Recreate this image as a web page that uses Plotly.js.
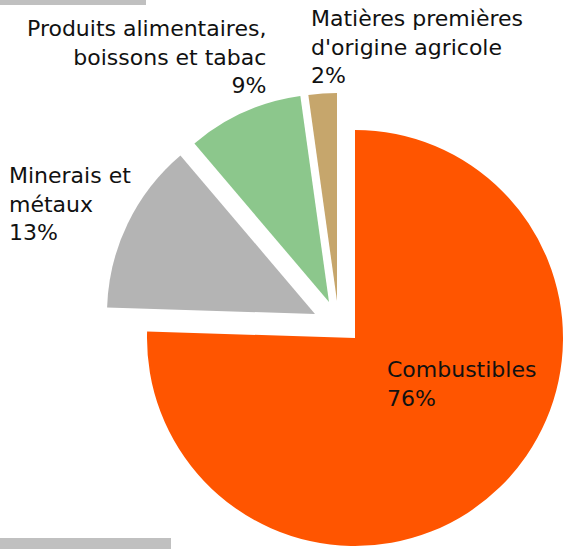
<!DOCTYPE html>
<html>
<head>
<meta charset="utf-8">
<script src="https://cdn.plot.ly/plotly-3.0.1.min.js"></script>
<style>
  html, body { margin: 0; padding: 0; background: #ffffff; }
  #chart { width: 564px; height: 549px; }
</style>
</head>
<body>
<div id="chart"></div>
<script>
// ---- data ----
const categories = ["Combustibles", "Minerais et métaux", "Produits alimentaires, boissons et tabac", "Matières premières d'origine agricole"];
const labelLines = ["Combustibles", "Minerais et<br>métaux", "Produits alimentaires,<br>boissons et tabac", "Matières premières<br>d'origine agricole"];
const shares = [75.5, 13.3, 9.0, 2.2];
const sliceColors = ["#FF5500", "#B4B4B4", "#8CC78C", "#C6A66C"];

// ---- layout helpers (pixel geometry of the exploded slices) ----
const W = 564, H = 549, R = 208;
const sliceCenters = [[355, 338], [315, 314], [329, 302], [337, 301]];

const total = shares.reduce((a, b) => a + b, 0);
const pctText = shares.map(v => Math.round(v * 100 / total) + "%");

const traces = categories.map((cat, i) => {
  const [cx, cy] = sliceCenters[i];
  return {
    type: "pie",
    labels: categories,
    values: shares,
    sort: false,
    direction: "clockwise",
    rotation: 0,
    textinfo: "none",
    hoverinfo: "skip",
    showlegend: false,
    marker: {
      colors: categories.map((c, j) => j === i ? sliceColors[i] : "rgba(0,0,0,0)"),
      line: { width: 0 }
    },
    domain: {
      x: [(cx - R) / W, (cx + R) / W],
      y: [1 - (cy + R) / H, 1 - (cy - R) / H]
    }
  };
});

const font = { family: "DejaVu Sans, Verdana, sans-serif", size: 22, color: "#111111" };
const labelPos = [
  { x: 385, y: 384, xanchor: "left", align: "left" },
  { x: 7, y: 204, xanchor: "left", align: "left" },
  { x: 268, y: 57, xanchor: "right", align: "right" },
  { x: 309, y: 47, xanchor: "left", align: "left" }
];

const annotations = categories.map((c, i) => ({
  xref: "paper", yref: "paper",
  x: labelPos[i].x / W,
  y: 1 - labelPos[i].y / H,
  xanchor: labelPos[i].xanchor,
  yanchor: "middle",
  align: labelPos[i].align,
  showarrow: false,
  text: labelLines[i] + "<br>" + pctText[i],
  font: font
}));

const layout = {
  width: W, height: H,
  margin: { l: 0, r: 0, t: 0, b: 0 },
  paper_bgcolor: "#ffffff",
  plot_bgcolor: "#ffffff",
  showlegend: false,
  annotations: annotations,
  shapes: [
    { type: "rect", xref: "paper", yref: "paper", x0: 0, x1: 146 / W, y0: 1 - 5 / H, y1: 1, fillcolor: "#C0C0C0", line: { width: 0 }, layer: "below" },
    { type: "rect", xref: "paper", yref: "paper", x0: 0, x1: 171 / W, y0: 0, y1: 1 - 538 / H, fillcolor: "#C0C0C0", line: { width: 0 }, layer: "below" }
  ]
};

Plotly.newPlot("chart", traces, layout, { displayModeBar: false, staticPlot: true });
</script>
</body>
</html>
